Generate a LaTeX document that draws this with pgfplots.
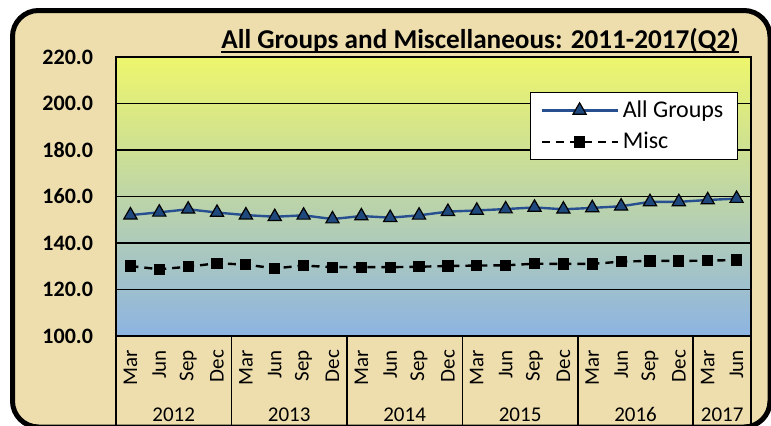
\documentclass[border=0pt]{standalone}
\usepackage{pgfplots}
\pgfplotsset{compat=1.18}
\usepackage{fontspec}
\setmainfont{Carlito}
\definecolor{paper}{RGB}{238,222,174}
\definecolor{bgtop}{RGB}{238,246,108}
\definecolor{bgmid}{RGB}{198,220,175}
\definecolor{bgbot}{RGB}{141,180,226}
\definecolor{allblue}{RGB}{31,73,125}
\definecolor{lineblue}{RGB}{40,80,145}

\pgfplotstableread{
x all misc
0 152.0 130.1
1 153.2 128.7
2 154.5 129.8
3 153.1 131.3
4 152.0 130.7
5 151.3 129.1
6 151.9 130.3
7 150.3 129.6
8 151.6 129.6
9 150.9 129.6
10 151.9 129.8
11 153.5 130.1
12 154.0 130.3
13 154.6 130.4
14 155.3 131.1
15 154.5 131.0
16 155.1 131.0
17 155.8 132.0
18 157.7 132.3
19 157.7 132.3
20 158.5 132.4
21 159.1 132.7
}\datatable

\begin{document}
\begin{tikzpicture}
\useasboundingbox (0,0) rectangle (385.5pt,212.5pt);
\clip (0,0) rectangle (385.5pt,212.5pt);
% paper panel with rounded border
\draw[line width=2.5pt, fill=paper, rounded corners=13pt]
  (6.25pt,-1pt) rectangle (385pt,207.25pt);
% title, underlined by hand
\node[anchor=base, inner sep=0pt, font=\bfseries\fontsize{13.6}{15}\selectfont]
  (title) at (240pt,188.5pt) {All Groups and Miscellaneous: 2011-2017(Q2)};
\draw[line width=0.8pt] ([yshift=-2pt]title.base west) -- ([yshift=-2pt]title.base east);
\begin{axis}[
  at={(58pt,44.5pt)}, anchor=south west,
  scale only axis,
  width=317.5pt, height=139.5pt,
  xmin=-0.5, xmax=21.5,
  ymin=100, ymax=220,
  ytick={100,120,...,220},
  xtick={0,...,21},
  xticklabels={Mar,Jun,Sep,Dec,Mar,Jun,Sep,Dec,Mar,Jun,Sep,Dec,
               Mar,Jun,Sep,Dec,Mar,Jun,Sep,Dec,Mar,Jun},
  major tick length=0pt,
  ymajorgrids,
  grid style={black, line width=0.7pt},
  axis line style={black, line width=0.8pt},
  axis background/.style={top color=bgtop, middle color=bgmid, bottom color=bgbot},
  clip=false,
  /pgf/number format/assume math mode=true,
  yticklabel style={font=\bfseries\fontsize{11}{13}\selectfont, xshift=-8pt,
    /pgf/number format/.cd, fixed, fixed zerofill, precision=1},
  xticklabel style={font=\fontsize{10.5}{12}\selectfont, rotate=90, anchor=east},
  xticklabel shift=3.5pt,
  legend style={at={(0.9795,0.8746)}, anchor=north east, draw=black,
    line width=0.6pt, fill=white, font=\fontsize{12}{14}\selectfont,
    row sep=2pt, inner xsep=5pt, inner ysep=2pt},
  legend cell align=left,
  legend image code/.code={
    \draw[mark repeat=2, mark phase=2, #1]
      plot coordinates {(0pt,0pt) (19pt,0pt) (38pt,0pt)};
  },
]
\addplot[lineblue, line width=1.2pt, mark=triangle*, mark size=3.8pt,
  mark options={solid, fill=allblue, draw=black, line width=0.6pt}]
  table[x=x, y=all] {\datatable};
\addlegendentry{All Groups}
\addplot[black, line width=1.2pt, dash pattern=on 4pt off 3pt, mark=square*, mark size=2.2pt,
  mark options={solid, fill=black}]
  table[x=x, y=misc] {\datatable};
\addlegendentry{Misc}
% year separators
\foreach \s in {-0.5,3.5,7.5,11.5,15.5,19.5,21.5}{
  \edef\tmp{\noexpand\draw[black, line width=0.8pt] (axis cs:\s,100) -- ++(0pt,-50pt);}
  \tmp
}
\foreach \c/\yr in {1.5/2012,5.5/2013,9.5/2014,13.5/2015,17.5/2016,20.5/2017}{
  \edef\tmp{\noexpand\node[font=\noexpand\fontsize{10.5}{12}\noexpand\selectfont, anchor=base]
    at ([yshift=-42.5pt]axis cs:\c,100) {\yr};}
  \tmp
}
\end{axis}
\end{tikzpicture}
\end{document}
